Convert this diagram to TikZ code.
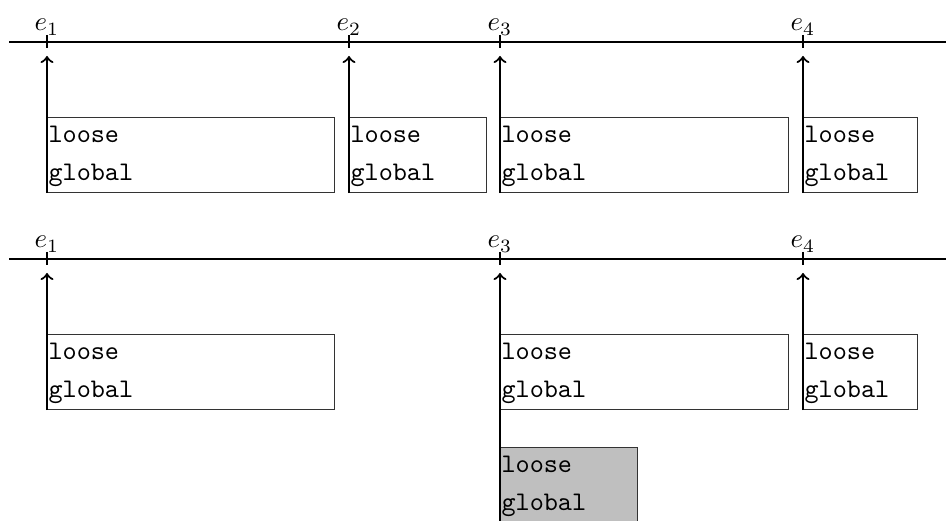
\documentclass[tikz,border=0pt]{standalone}
\begin{document}
\begin{tikzpicture}[x=0.372pt,y=-0.372pt,
  tl/.style={line width=0.8pt},
  ar/.style={line width=0.8pt,->},
  bx/.style={draw=black!80, line width=0.4pt, anchor=north west, inner sep=0, minimum height=75*0.372pt},
  txt/.style={anchor=base west, inner sep=0, font=\ttfamily},
  lbl/.style={anchor=base, inner sep=0}]
\useasboundingbox (0,0) rectangle (946,521);
\newcommand{\mybox}[5]{%
  \node[bx, fill=#5, minimum width=#4*0.372pt] (#1) at (#2,#3) {};
  \node[txt] (#1a) at (#2+1,#3+26) {loose};
  \node[txt] (#1b) at (#2+1,#3+64) {global};}
% ---- row 1
\coordinate (s1) at (9,42); \coordinate (f1) at (946,42);
\draw[tl] (s1) -- (f1);
\foreach \x/\n in {47/1,349/2,500/3,803/4}{
  \draw[tl] (\x,35) -- (\x,48);
  \node[lbl] (ea\n) at (\x,31) {$e_\n$};
  \coordinate (pa\n) at (\x,56);
}
\mybox{ba1}{47}{117}{287}{white}
\mybox{ba2}{349}{117}{137}{white}
\mybox{ba3}{500}{117}{288}{white}
\mybox{ba4}{803}{117}{114}{white}
\foreach \n in {1,2,3,4}{\draw[ar] (ba\n.south west) -- (pa\n);}
% ---- row 2
\coordinate (s2) at (9,259); \coordinate (f2) at (946,259);
\draw[tl] (s2) -- (f2);
\foreach \x/\n in {47/1,500/3,803/4}{
  \draw[tl] (\x,252) -- (\x,265);
  \node[lbl] (eb\n) at (\x,248) {$e_\n$};
  \coordinate (pb\n) at (\x,273);
}
\mybox{bb1}{47}{334}{287}{white}
\mybox{bb3}{500}{334}{288}{white}
\mybox{bb4}{803}{334}{114}{white}
\mybox{bc3}{500}{447}{137}{black!25}
\draw[ar] (bb1.south west) -- (pb1);
\draw[ar] (bc3.south west) -- (pb3);
\draw[ar] (bb4.south west) -- (pb4);
\end{tikzpicture}
\end{document}
